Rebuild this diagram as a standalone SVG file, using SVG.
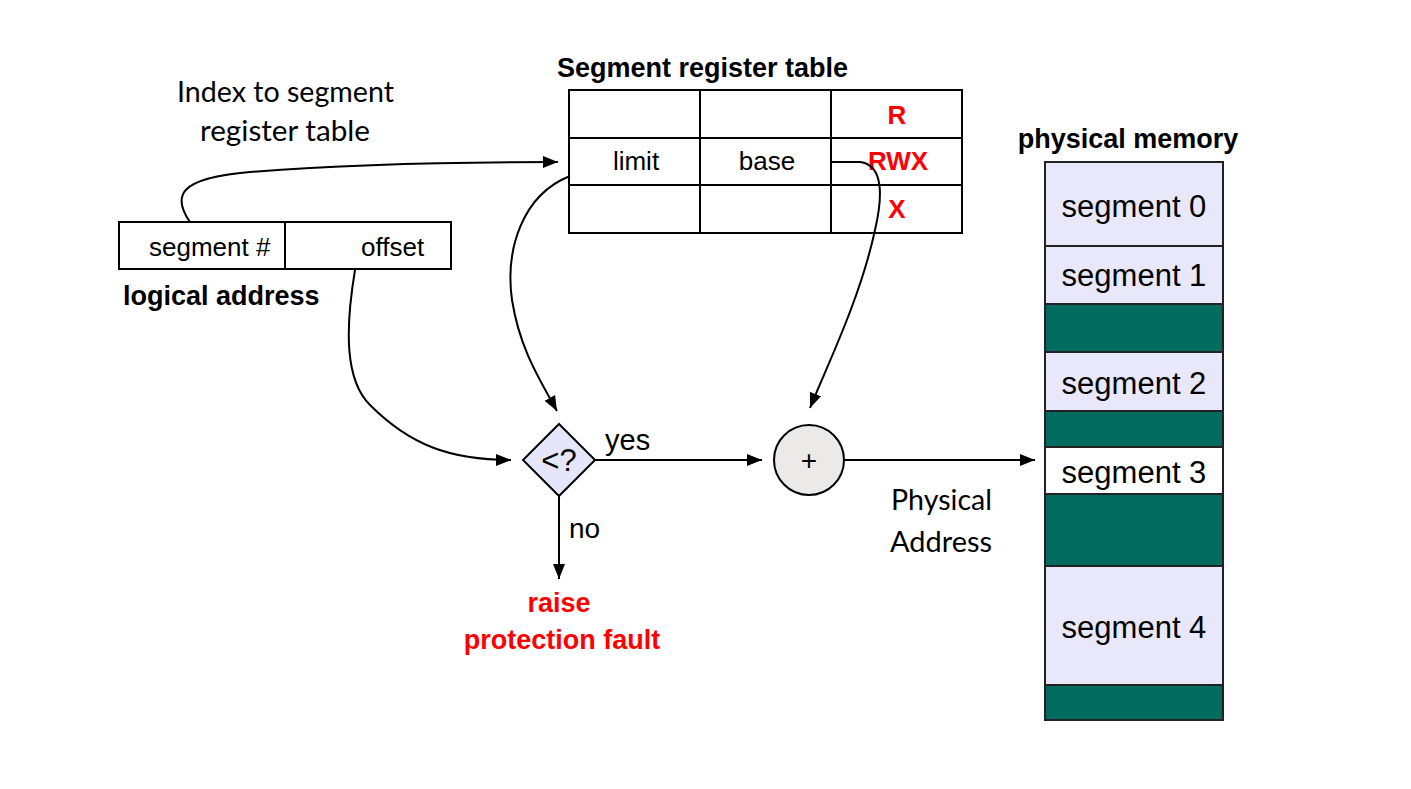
<svg xmlns="http://www.w3.org/2000/svg" width="1411" height="789" viewBox="0 0 1411 789">
<defs>
<marker id="arr" markerUnits="userSpaceOnUse" markerWidth="16" markerHeight="14" viewBox="0 0 16 14" refX="15" refY="7" orient="auto">
<path d="M0 1 L15 7 L0 13 Z" fill="#000"/>
</marker>
<style>
.box{fill:#fff;stroke:#000;stroke-width:2}
.line{stroke:#000;stroke-width:2;fill:none}
.conn{stroke:#000;stroke-width:2;fill:none;marker-end:url(#arr)}
.t{font-family:"Liberation Sans",Arial,sans-serif;font-size:26px;fill:#000}
.tb{font-family:"Liberation Sans",Arial,sans-serif;font-size:27px;font-weight:bold;fill:#000}
.red{fill:#ff0000}
.cal{font-family:Lato,"Open Sans",sans-serif;font-size:28px;fill:#000}
.seg{fill:#e8e8fa;stroke:#222;stroke-width:2}
.free{fill:#006b5e;stroke:#222;stroke-width:2}
.mt{font-family:"Liberation Sans",Arial,sans-serif;font-size:31px;fill:#000;text-anchor:middle}
</style>
</defs>
<rect width="1411" height="789" fill="#fff"/>

<g id="index-label">
<text class="cal" x="177" y="102" textLength="217" lengthAdjust="spacingAndGlyphs">Index to segment</text>
<text class="cal" x="200" y="141" textLength="170" lengthAdjust="spacingAndGlyphs">register table</text>
</g>

<g id="logical-address">
<rect class="box" x="119" y="222" width="332" height="47"/>
<line class="line" x1="285" y1="222" x2="285" y2="269"/>
<text class="t" x="149" y="256">segment #</text>
<text class="t" x="361" y="256">offset</text>
<text class="tb" x="123" y="305">logical address</text>
</g>

<g id="segment-table">
<text class="tb" x="557" y="77">Segment register table</text>
<rect class="box" x="569" y="90" width="393" height="143"/>
<line class="line" x1="569" y1="138" x2="962" y2="138"/>
<line class="line" x1="569" y1="185" x2="962" y2="185"/>
<line class="line" x1="700" y1="90" x2="700" y2="233"/>
<line class="line" x1="831" y1="90" x2="831" y2="233"/>
<text class="t" x="636" y="170" text-anchor="middle">limit</text>
<text class="t" x="767" y="170" text-anchor="middle">base</text>
<text class="tb red" x="897" y="124" text-anchor="middle" style="font-size:26px">R</text>
<text class="tb red" x="898" y="170" text-anchor="middle" style="font-size:26px">RWX</text>
<text class="tb red" x="897" y="218" text-anchor="middle" style="font-size:26px">X</text>
</g>

<g id="compare">
<polygon points="559,424 595,460 559,496 523,460" fill="#e6e6fa" stroke="#000" stroke-width="2"/>
<text class="t" x="559" y="471" text-anchor="middle" style="font-size:31px">&lt;?</text>
</g>

<g id="adder">
<circle cx="809" cy="460" r="35" fill="#ece9e9" stroke="#000" stroke-width="2"/>
<text class="t" x="809" y="470" text-anchor="middle" style="font-size:28px">+</text>
</g>

<g id="fault">
<text class="tb red" x="559" y="612" text-anchor="middle">raise</text>
<text class="tb red" x="562" y="649" text-anchor="middle">protection fault</text>
</g>

<g id="labels">
<text class="t" x="605" y="450" style="font-size:29px">yes</text>
<text class="t" x="569" y="538" style="font-size:28px">no</text>
<text class="cal" x="891" y="510" textLength="101" lengthAdjust="spacingAndGlyphs">Physical</text>
<text class="cal" x="890" y="552" textLength="102" lengthAdjust="spacingAndGlyphs">Address</text>
</g>

<g id="physical-memory">
<text class="tb" x="1128" y="148" text-anchor="middle">physical memory</text>
<rect class="seg" x="1045" y="162" width="178" height="84"/>
<rect class="seg" x="1045" y="246" width="178" height="58"/>
<rect class="free" x="1045" y="304" width="178" height="48"/>
<rect class="seg" x="1045" y="352" width="178" height="59"/>
<rect class="free" x="1045" y="411" width="178" height="36"/>
<rect x="1045" y="447" width="178" height="47" fill="#fff" stroke="#222" stroke-width="2"/>
<rect class="free" x="1045" y="494" width="178" height="72"/>
<rect class="seg" x="1045" y="566" width="178" height="119"/>
<rect class="free" x="1045" y="685" width="178" height="35"/>
<text class="mt" x="1134" y="217">segment 0</text>
<text class="mt" x="1134" y="286">segment 1</text>
<text class="mt" x="1134" y="394">segment 2</text>
<text class="mt" x="1134" y="483">segment 3</text>
<text class="mt" x="1134" y="638">segment 4</text>
</g>

<g id="connectors">
<path class="conn" d="M190 222 C172 196 178 178 250 172 C350 164 450 162 558 162"/>
<path class="conn" d="M570 176 C522 195 505 250 512 300 C520 350 540 380 557 411"/>
<path class="conn" d="M355 270 C345 330 345 380 370 405 C410 445 450 460 511 460"/>
<path class="conn" d="M832 162 L860 162 C885 165 882 200 875 230 C860 300 825 370 810 408"/>
<path class="conn" d="M595 460 H762"/>
<path class="conn" d="M845 460 H1035"/>
<path class="conn" d="M559 496 V579"/>
</g>
</svg>
